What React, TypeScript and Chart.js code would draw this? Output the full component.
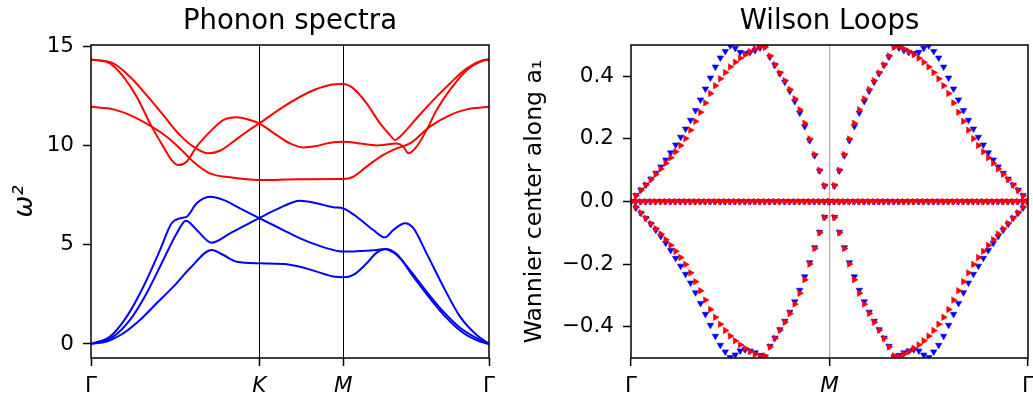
import React, { useEffect, useRef } from 'react';
import { Chart, registerables } from 'chart.js';

Chart.register(...registerables);

const FONT = "'DejaVu Sans', 'Liberation Sans', sans-serif";

// ---------------- Phonon spectra (left) ----------------
const phononTickPos = [0, 1.3333, 2.0, 3.1547];
const phononTickLabels = ['Γ', 'K', 'M', 'Γ'];
const omegaTicks = [0, 5, 10, 15];

// optical (red) bands: [path coordinate, ω²]
const redBand1: [number, number][] = [
  [0, 14.36], [0.177, 14.16], [0.309, 13.49], [0.441, 12.56], [0.573, 11.55], [0.705, 10.54],
  [0.811, 9.96], [0.93, 9.62], [1.022, 9.75], [1.128, 10.21], [1.234, 10.71], [1.3333, 11.13],
  [1.524, 11.97], [1.736, 12.73], [1.894, 13.07], [2.0, 13.12], [2.079, 12.9], [2.185, 12.14],
  [2.291, 11.13], [2.37, 10.54], [2.41, 10.29], [2.449, 10.46], [2.581, 11.39], [2.713, 12.31],
  [2.845, 13.15], [2.978, 13.91], [3.11, 14.33], [3.1547, 14.36],
];
const redBand2: [number, number][] = [
  [0, 14.36], [0.151, 14.16], [0.256, 13.49], [0.362, 12.48], [0.481, 10.97], [0.573, 9.96],
  [0.639, 9.28], [0.692, 9.03], [0.758, 9.2], [0.838, 9.96], [0.97, 10.88], [1.049, 11.3],
  [1.155, 11.44], [1.26, 11.3], [1.3333, 11.13], [1.472, 10.54], [1.577, 10.12], [1.683, 9.92],
  [1.789, 9.99], [1.894, 10.16], [2.0, 10.21], [2.132, 10.12], [2.264, 10.02], [2.37, 10.09],
  [2.423, 10.12], [2.476, 9.96], [2.515, 9.62], [2.581, 9.96], [2.66, 10.8], [2.74, 11.81],
  [2.845, 12.82], [2.978, 13.82], [3.11, 14.3], [3.1547, 14.36],
];
const redBand3: [number, number][] = [
  [0, 11.97], [0.177, 11.84], [0.309, 11.55], [0.481, 10.97], [0.6, 10.46], [0.705, 9.87],
  [0.811, 9.2], [0.943, 8.61], [1.102, 8.41], [1.3333, 8.27], [1.657, 8.31], [2.0, 8.32],
  [2.079, 8.44], [2.185, 8.95], [2.317, 9.54], [2.423, 9.87], [2.528, 10.12], [2.687, 10.97],
  [2.845, 11.55], [2.978, 11.84], [3.1547, 11.97],
];
// acoustic (blue) bands
const blueBand1: [number, number][] = [
  [0, 0], [0.124, 0.12], [0.256, 0.54], [0.388, 1.21], [0.52, 2.05], [0.653, 2.89], [0.785, 3.82],
  [0.956, 4.74], [1.049, 4.49], [1.155, 4.15], [1.3333, 4.07], [1.524, 4.04], [1.657, 3.9],
  [1.789, 3.65], [1.921, 3.4], [2.0, 3.36], [2.079, 3.48], [2.185, 4.07], [2.264, 4.61],
  [2.33, 4.78], [2.423, 4.49], [2.528, 3.73], [2.66, 2.64], [2.793, 1.63], [2.925, 0.82],
  [3.057, 0.29], [3.1547, 0],
];
const blueBand2: [number, number][] = [
  [0, 0], [0.177, 0.37], [0.309, 1.21], [0.441, 2.56], [0.573, 4.24], [0.679, 5.58], [0.753, 6.22],
  [0.838, 5.75], [0.956, 5.11], [1.102, 5.58], [1.3333, 6.35], [1.472, 6.79], [1.657, 7.23],
  [1.789, 7.1], [1.921, 6.9], [2.0, 6.84], [2.106, 6.42], [2.238, 5.75], [2.33, 5.38],
  [2.396, 5.75], [2.489, 6.09], [2.555, 5.84], [2.66, 4.57], [2.793, 2.89], [2.925, 1.38],
  [3.057, 0.45], [3.1547, 0],
];
const blueBand3: [number, number][] = [
  [0, 0], [0.151, 0.37], [0.283, 1.38], [0.415, 2.89], [0.547, 4.74], [0.639, 6.09], [0.705, 6.34],
  [0.758, 6.42], [0.838, 7.1], [0.943, 7.43], [1.049, 7.27], [1.181, 6.84], [1.3333, 6.35],
  [1.524, 5.75], [1.657, 5.33], [1.789, 5.0], [1.921, 4.74], [2.0, 4.66], [2.132, 4.69],
  [2.264, 4.74], [2.33, 4.79], [2.423, 4.54], [2.555, 3.4], [2.687, 2.3], [2.82, 1.3],
  [2.951, 0.55], [3.083, 0.12], [3.1547, 0],
];

// ---------------- Wilson loops (right) ----------------
const wilsonTickPos = [0, 1, 2];
const wilsonTickLabels = ['Γ', 'M', 'Γ'];
const wannierTicks = [-0.4, -0.2, 0, 0.2, 0.4];
const kPathStep = 0.025; // spacing of the k-point mesh along Γ–M–Γ

const blueUpper = [
  0, 0.02, 0.037, 0.053, 0.072, 0.091, 0.111, 0.133, 0.156, 0.181, 0.206, 0.232, 0.26, 0.291,
  0.325, 0.36, 0.395, 0.43, 0.459, 0.48, 0.498, 0.49, 0.477, 0.473, 0.477, 0.483, 0.491, 0.496,
  0.462, 0.436, 0.409, 0.382, 0.353, 0.32, 0.283, 0.24, 0.195, 0.147, 0.098, 0.05, 0,
  0.05, 0.098, 0.147, 0.195, 0.24, 0.283, 0.32, 0.353, 0.382, 0.409, 0.436, 0.462, 0.496, 0.491,
  0.483, 0.477, 0.473, 0.477, 0.49, 0.498, 0.48, 0.459, 0.43, 0.395, 0.36, 0.325, 0.291, 0.26,
  0.232, 0.206, 0.181, 0.156, 0.133, 0.111, 0.091, 0.072, 0.053, 0.037, 0.02, 0,
];
const blueLower = [
  0, -0.02, -0.037, -0.053, -0.072, -0.091, -0.111, -0.133, -0.156, -0.181, -0.206, -0.232, -0.26, -0.291,
  -0.325, -0.36, -0.395, -0.43, -0.459, -0.48, -0.498, -0.49, -0.477, -0.473, -0.477, -0.483, -0.491, -0.496,
  -0.462, -0.436, -0.409, -0.382, -0.353, -0.32, -0.283, -0.24, -0.195, -0.147, -0.098, -0.05, 0,
  -0.05, -0.098, -0.147, -0.195, -0.24, -0.283, -0.32, -0.353, -0.382, -0.409, -0.436, -0.462, -0.496, -0.491,
  -0.483, -0.477, -0.473, -0.477, -0.49, -0.498, -0.48, -0.459, -0.43, -0.395, -0.36, -0.325, -0.291, -0.26,
  -0.232, -0.206, -0.181, -0.156, -0.133, -0.111, -0.091, -0.072, -0.053, -0.037, -0.02, 0,
];
const redUpper = [
  0, 0.018, 0.036, 0.053, 0.07, 0.087, 0.104, 0.122, 0.14, 0.159, 0.179, 0.201, 0.228, 0.256,
  0.285, 0.315, 0.345, 0.37, 0.392, 0.412, 0.43, 0.445, 0.458, 0.469, 0.479, 0.488, 0.495, 0.493,
  0.465, 0.437, 0.411, 0.386, 0.358, 0.328, 0.293, 0.25, 0.2, 0.15, 0.1, 0.051, 0,
  0.051, 0.1, 0.15, 0.2, 0.25, 0.293, 0.328, 0.358, 0.386, 0.411, 0.437, 0.465, 0.493, 0.495,
  0.488, 0.479, 0.469, 0.458, 0.445, 0.43, 0.412, 0.392, 0.37, 0.345, 0.315, 0.285, 0.256, 0.228,
  0.201, 0.179, 0.159, 0.14, 0.122, 0.104, 0.087, 0.07, 0.053, 0.036, 0.018, 0,
];
const redLower = [
  0, -0.018, -0.036, -0.053, -0.07, -0.087, -0.104, -0.122, -0.14, -0.159, -0.179, -0.201, -0.228, -0.256,
  -0.285, -0.315, -0.345, -0.37, -0.392, -0.412, -0.43, -0.445, -0.458, -0.469, -0.479, -0.488, -0.495, -0.493,
  -0.465, -0.437, -0.411, -0.386, -0.358, -0.328, -0.293, -0.25, -0.2, -0.15, -0.1, -0.051, 0,
  -0.051, -0.1, -0.15, -0.2, -0.25, -0.293, -0.328, -0.358, -0.386, -0.411, -0.437, -0.465, -0.493, -0.495,
  -0.488, -0.479, -0.469, -0.458, -0.445, -0.43, -0.412, -0.392, -0.37, -0.345, -0.315, -0.285, -0.256, -0.228,
  -0.201, -0.179, -0.159, -0.14, -0.122, -0.104, -0.087, -0.07, -0.053, -0.036, -0.018, 0,
];
const zeroCenters = [
  0, 0, 0, 0, 0, 0, 0, 0, 0, 0, 0, 0, 0, 0, 0, 0, 0, 0, 0, 0, 0, 0, 0, 0, 0, 0, 0,
  0, 0, 0, 0, 0, 0, 0, 0, 0, 0, 0, 0, 0, 0, 0, 0, 0, 0, 0, 0, 0, 0, 0, 0, 0, 0, 0,
  0, 0, 0, 0, 0, 0, 0, 0, 0, 0, 0, 0, 0, 0, 0, 0, 0, 0, 0, 0, 0, 0, 0, 0, 0, 0, 0,
];

// ---------------- helpers ----------------
const framePlugin = {
  id: 'frame',
  afterDatasetsDraw(chart: any) {
    const { ctx, chartArea } = chart;
    ctx.save();
    ctx.strokeStyle = '#000';
    ctx.lineWidth = 1.5;
    ctx.strokeRect(chartArea.left, chartArea.top, chartArea.right - chartArea.left, chartArea.bottom - chartArea.top);
    ctx.restore();
  },
};

const titleOpts = (text: string) => ({
  display: true,
  text,
  color: '#000',
  fullSize: false,
  font: { family: FONT, size: 27.5, weight: 'normal' as const },
  padding: { top: 5, bottom: 7 },
});

function ChartCanvas({ left, width, height, makeConfig }: any) {
  const ref = useRef<HTMLCanvasElement>(null);
  useEffect(() => {
    const chart = new Chart(ref.current as HTMLCanvasElement, makeConfig());
    return () => chart.destroy();
  }, []);
  return (
    <canvas
      ref={ref}
      width={width}
      height={height}
      style={{ position: 'absolute', left, top: 0, width, height }}
    />
  );
}

function phononConfig(): any {
  const band = (pts: [number, number][], color: string) => ({
    data: pts.map(([x, y]) => ({ x, y })),
    borderColor: color,
    backgroundColor: color,
    borderWidth: 2,
    pointRadius: 0,
    cubicInterpolationMode: 'monotone',
    fill: false,
  });
  return {
    type: 'line',
    data: {
      datasets: [
        band(redBand1, '#ff0000'),
        band(redBand2, '#ff0000'),
        band(redBand3, '#ff0000'),
        band(blueBand1, '#0000ff'),
        band(blueBand2, '#0000ff'),
        band(blueBand3, '#0000ff'),
      ],
    },
    options: {
      animation: false,
      responsive: false,
      devicePixelRatio: 1,
      layout: { padding: { left: 0, right: 31, top: 0, bottom: 0 } },
      plugins: {
        legend: { display: false },
        tooltip: { enabled: false },
        title: titleOpts('Phonon spectra'),
      },
      scales: {
        x: {
          type: 'linear',
          min: phononTickPos[0],
          max: phononTickPos[3],
          afterBuildTicks: (s: any) => { s.ticks = phononTickPos.map((v) => ({ value: v })); },
          afterFit: (s: any) => { s.height = 41; s.paddingLeft = 0; s.paddingRight = 0; },
          border: { display: false },
          grid: {
            drawOnChartArea: true,
            drawTicks: true,
            tickLength: 8,
            tickWidth: 1.5,
            tickColor: '#000',
            color: (c: any) => (c.index === 1 || c.index === 2 ? '#000' : 'rgba(0,0,0,0)'),
            lineWidth: 1,
          },
          ticks: {
            autoSkip: false,
            maxRotation: 0,
            padding: 8,
            color: '#000',
            font: (c: any) => ({
              family: FONT,
              size: 21.5,
              style: c.index === 1 || c.index === 2 ? 'italic' : 'normal',
            }),
            callback: (_v: any, i: number) => phononTickLabels[i],
          },
        },
        y: {
          type: 'linear',
          min: -0.71,
          max: 15.09,
          afterBuildTicks: (s: any) => { s.ticks = omegaTicks.map((v) => ({ value: v })); },
          afterFit: (s: any) => { s.width = 91; s.paddingTop = 0; s.paddingBottom = 0; },
          border: { display: false },
          grid: {
            drawOnChartArea: false,
            drawTicks: true,
            tickLength: 8,
            tickWidth: 1.5,
            tickColor: '#000',
          },
          ticks: {
            padding: 9,
            color: '#000',
            font: { family: FONT, size: 21.5 },
            callback: (v: any) => String(v),
          },
          title: {
            display: true,
            text: 'ω²',
            color: '#000',
            font: { family: FONT, size: 26, style: 'italic' },
            padding: { top: 10, bottom: 0 },
          },
        },
      },
    },
    plugins: [framePlugin],
  };
}

function wilsonConfig(): any {
  const series = (vals: number[], color: string, rotation: number) => ({
    data: vals.map((y, i) => ({ x: i * kPathStep, y })),
    backgroundColor: color,
    borderColor: color,
    pointBorderWidth: 0.6,
    pointRadius: 3.7,
    pointStyle: 'triangle',
    pointRotation: rotation,
    showLine: false,
    clip: 0,
  });
  return {
    type: 'scatter',
    data: {
      datasets: [
        series(redUpper, '#ff0000', 90),
        series(redLower, '#ff0000', 90),
        series(zeroCenters, '#ff0000', 90),
        series(blueUpper, '#0000ff', 180),
        series(blueLower, '#0000ff', 180),
        series(zeroCenters, '#0000ff', 180),
      ],
    },
    options: {
      animation: false,
      responsive: false,
      devicePixelRatio: 1,
      layout: { padding: { left: 0, right: 5, top: 0, bottom: 0 } },
      plugins: {
        legend: { display: false },
        tooltip: { enabled: false },
        title: titleOpts('Wilson Loops'),
      },
      scales: {
        x: {
          type: 'linear',
          min: wilsonTickPos[0],
          max: wilsonTickPos[2],
          afterBuildTicks: (s: any) => { s.ticks = wilsonTickPos.map((v) => ({ value: v })); },
          afterFit: (s: any) => { s.height = 41; s.paddingLeft = 0; s.paddingRight = 0; },
          border: { display: false },
          grid: {
            drawOnChartArea: true,
            drawTicks: true,
            tickLength: 8,
            tickWidth: 1.5,
            tickColor: '#000',
            color: (c: any) => (c.index === 1 ? '#b0b0b0' : 'rgba(0,0,0,0)'),
            lineWidth: 1.3,
          },
          ticks: {
            autoSkip: false,
            maxRotation: 0,
            padding: 8,
            color: '#000',
            font: (c: any) => ({
              family: FONT,
              size: 21.5,
              style: c.index === 1 ? 'italic' : 'normal',
            }),
            callback: (_v: any, i: number) => wilsonTickLabels[i],
          },
        },
        y: {
          type: 'linear',
          min: -0.5,
          max: 0.5,
          afterBuildTicks: (s: any) => { s.ticks = wannierTicks.map((v) => ({ value: v })); },
          afterFit: (s: any) => { s.width = 111; s.paddingTop = 0; s.paddingBottom = 0; },
          border: { display: false },
          grid: {
            drawOnChartArea: false,
            drawTicks: true,
            tickLength: 8,
            tickWidth: 1.5,
            tickColor: '#000',
          },
          ticks: {
            padding: 9,
            color: '#000',
            font: { family: FONT, size: 21.5 },
            callback: (v: any) => {
              const n = Number(v);
              return (n < -1e-9 ? '−' : '') + Math.abs(n).toFixed(1);
            },
          },
          title: {
            display: true,
            text: 'Wannier center along a₁',
            color: '#000',
            font: { family: FONT, size: 23.5 },
            padding: { top: 1, bottom: 0 },
          },
        },
      },
    },
    plugins: [framePlugin],
  };
}

export default function App() {
  return (
    <div
      style={{
        position: 'absolute',
        left: 0,
        top: 0,
        width: 1033,
        height: 399,
        overflow: 'hidden',
        background: '#fff',
      }}
    >
      <ChartCanvas left={0} width={520} height={399} makeConfig={phononConfig} />
      <ChartCanvas left={520} width={513} height={399} makeConfig={wilsonConfig} />
    </div>
  );
}
